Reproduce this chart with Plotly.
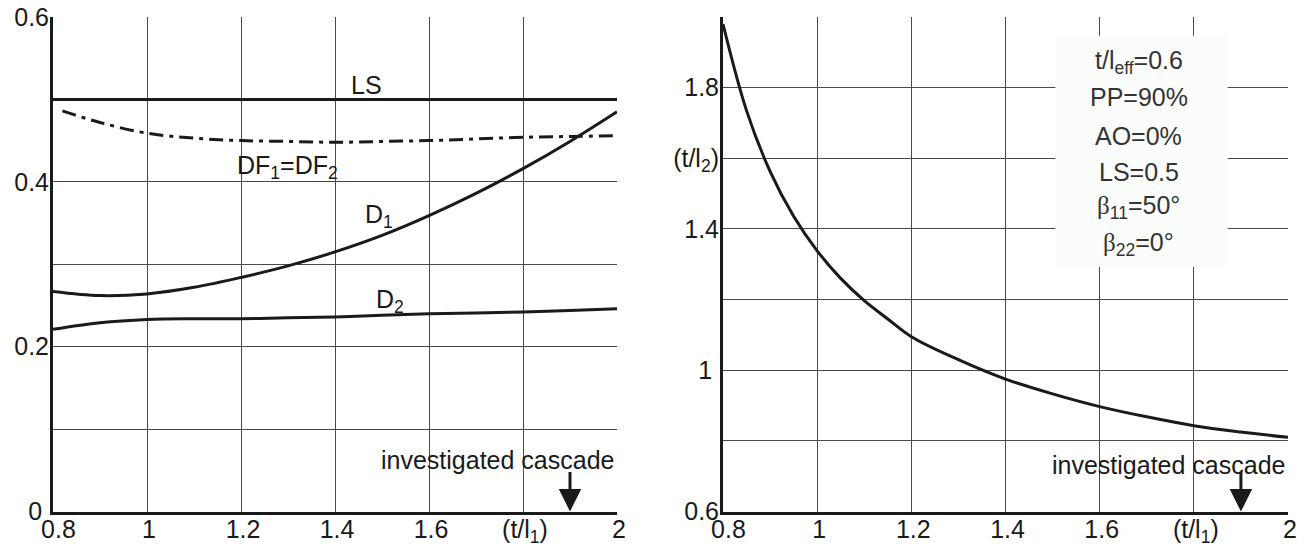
import plotly.graph_objects as go

# ---------------- data ----------------
# left panel: loss coefficients vs pitch ratio (t/l1)
x_ls = [0.8, 2.0]
ls_vals = [0.5, 0.5]

x_df = [0.82, 0.9, 1.0, 1.1, 1.2, 1.3, 1.4, 1.5, 1.6, 1.7, 1.8, 1.9, 2.0]
df_vals = [0.486, 0.472, 0.459, 0.453, 0.450, 0.449, 0.448, 0.449, 0.450, 0.452, 0.454, 0.455, 0.456]

x_left = [0.8, 0.9, 1.0, 1.1, 1.2, 1.3, 1.4, 1.5, 1.6, 1.7, 1.8, 1.9, 2.0]
d1_vals = [0.267, 0.262, 0.264, 0.272, 0.284, 0.298, 0.315, 0.335, 0.359, 0.386, 0.416, 0.449, 0.485]
d2_vals = [0.221, 0.229, 0.233, 0.234, 0.234, 0.235, 0.236, 0.238, 0.240, 0.241, 0.242, 0.244, 0.246]

# right panel: (t/l2) vs (t/l1)
x_right = [0.8, 0.85, 0.9, 0.95, 1.0, 1.05, 1.1, 1.15, 1.2, 1.3, 1.4, 1.5, 1.6, 1.7, 1.8, 1.9, 2.0]
tl2_vals = [1.980, 1.735, 1.563, 1.436, 1.338, 1.260, 1.197, 1.145, 1.095, 1.030, 0.975, 0.933, 0.897,
            0.868, 0.843, 0.825, 0.810]

investigated_x = 1.9

x_tickvals = [0.8, 1.0, 1.2, 1.4, 1.6, 1.8, 2.0]
x_ticktext = ["\u00a00.8", "1", "1.2", "1.4", "1.6", "(t/l<sub>1</sub>)", "2"]
yl_tickvals = [0, 0.2, 0.4, 0.6]
yl_ticktext = ["0\u00a0", "0.2", "0.4", "0.6"]
yr_tickvals = [0.6, 1.0, 1.4, 1.6, 1.8]
yr_ticktext = ["0.6", "1\u00a0", "1.4", "(t/l<sub>2</sub>)", "1.8"]

param_lines = ["t/l<sub>eff</sub>=0.6", "PP=90%", "AO=0%", "LS=0.5",
               "<span style=\"font-family:'Liberation Serif'\">β</span><sub>11</sub>=50°",
               "<span style=\"font-family:'Liberation Serif'\">β</span><sub>22</sub>=0°"]
param_y = [1.874, 1.774, 1.664, 1.562, 1.462, 1.357]

# ---------------- styling ----------------
INK = "#1a1a1a"
GRID = "#4a4a4a"
FONT = "Liberation Sans, Arial, sans-serif"
FS = 25

fig = go.Figure()

line_style = dict(color=INK, width=3)
fig.add_trace(go.Scatter(x=x_ls, y=ls_vals, mode="lines", line=line_style, xaxis="x", yaxis="y"))
fig.add_trace(go.Scatter(x=x_df, y=df_vals, mode="lines", line_shape="spline",
                         line=dict(color=INK, width=3, dash="14px,6px,4px,6px"), xaxis="x", yaxis="y"))
fig.add_trace(go.Scatter(x=x_left, y=d1_vals, mode="lines", line_shape="spline", line=line_style, xaxis="x", yaxis="y"))
fig.add_trace(go.Scatter(x=x_left, y=d2_vals, mode="lines", line_shape="spline", line=line_style, xaxis="x", yaxis="y"))
fig.add_trace(go.Scatter(x=x_right, y=tl2_vals, mode="lines", line_shape="spline", line=line_style,
                         xaxis="x2", yaxis="y2"))

xdom_l = [53 / 1308, 617 / 1308]
xdom_r = [723 / 1308, 1288 / 1308]
ydom = [(551 - 511.5) / 551, (551 - 17) / 551]

common_x = dict(range=[0.8, 2.0], tickvals=x_tickvals, ticktext=x_ticktext,
                showgrid=True, gridcolor=GRID, gridwidth=1.2,
                showline=True, linecolor=INK, linewidth=3, zeroline=False,
                ticks="", ticklabelstandoff=-7, ticklabelshift=2, automargin=False,
                tickfont=dict(family=FONT, size=FS, color=INK))
common_y = dict(showgrid=True, gridcolor=GRID, gridwidth=1.2,
                showline=True, linecolor=INK, linewidth=3, zeroline=False,
                ticks="", ticklabelstandoff=-4, automargin=False,
                tickfont=dict(family=FONT, size=FS, color=INK))

fig.update_layout(
    width=1308, height=551,
    margin=dict(l=0, r=0, t=0, b=0),
    paper_bgcolor="white", plot_bgcolor="white",
    showlegend=False,
    xaxis=dict(domain=xdom_l, anchor="y", **common_x),
    yaxis=dict(domain=ydom, anchor="x", range=[0, 0.6], tickvals=yl_tickvals, ticktext=yl_ticktext,
               minor=dict(dtick=0.1, tick0=0, showgrid=True, gridcolor=GRID, gridwidth=1.2, ticks=""),
               **common_y),
    xaxis2=dict(domain=xdom_r, anchor="y2", **common_x),
    yaxis2=dict(domain=ydom, anchor="x2", range=[0.6, 2.0], tickvals=yr_tickvals, ticktext=yr_ticktext,
                minor=dict(dtick=0.2, tick0=0.6, showgrid=True, gridcolor=GRID, gridwidth=1.2, ticks=""),
                **common_y),
)

# white box behind parameter text (covers grid lines)
fig.add_shape(type="rect", xref="x2", yref="y2", x0=1.506, x1=1.872, y0=1.292, y1=1.947,
              fillcolor="#fbfdfd", line=dict(width=0), layer="above")

tfont = dict(family=FONT, size=FS, color=INK)
pfont = dict(family=FONT, size=FS, color="#333333")

ann = []
ann.append(dict(x=1.468, y=0.517, xref="x", yref="y", text="LS", showarrow=False, font=tfont))
ann.append(dict(x=1.298, y=0.418, xref="x", yref="y", text="DF<sub>1</sub>=DF<sub>2</sub>", showarrow=False, font=tfont))
ann.append(dict(x=1.494, y=0.358, xref="x", yref="y", text="D<sub>1</sub>", showarrow=False, font=tfont))
ann.append(dict(x=1.517, y=0.256, xref="x", yref="y", text="D<sub>2</sub>", showarrow=False, font=tfont))

for xr, yr, y0, ytxt in [("x", "y", 0.0, 0.063), ("x2", "y2", 0.6, 0.733)]:
    ann.append(dict(x=1.998, y=ytxt, xref=xr, yref=yr, text="investigated cascade", showarrow=False,
                    xanchor="right", yanchor="middle", font=tfont))
    ann.append(dict(x=investigated_x, y=y0, xref=xr, yref=yr, text="", showarrow=True,
                    ax=0, ay=-41, arrowhead=2, arrowsize=1.5, arrowwidth=3, arrowcolor=INK, standoff=0))

for t, yv in zip(param_lines, param_y):
    ann.append(dict(x=1.683, y=yv, xref="x2", yref="y2", text=t, showarrow=False, font=pfont))

fig.update_layout(annotations=ann)

fig.write_html("out.html")
